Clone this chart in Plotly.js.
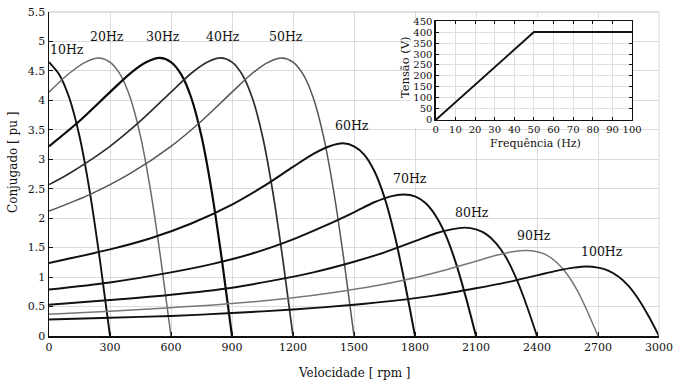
<!DOCTYPE html>
<html>
<head>
<meta charset="utf-8">
<script src="https://cdn.plot.ly/plotly-3.0.1.min.js"></script>
<style>html,body{margin:0;padding:0;background:#fff;}#chart{width:683px;height:388px;}</style>
</head>
<body>
<div id="chart"></div>
<script>
// Speed (rpm) and torque (pu), one pair per supply frequency
var n10 = [0,50,100,150,200,250,300];
var t10 = [4.65,4.44,4.04,3.39,2.46,1.30,0];
var n20 = [0,100,180,245,300,350,400,450,500,550,600];
var t20 = [4.14,4.46,4.65,4.72,4.65,4.44,4.04,3.39,2.46,1.30,0];
var n30 = [0,150,300,400,480,545,600,650,700,750,800,850,900];
var t30 = [3.22,3.65,4.14,4.46,4.65,4.72,4.65,4.44,4.04,3.39,2.46,1.30,0];
var n40 = [0,100,300,450,600,700,780,845,900,950,1000,1050,1100,1150,1200];
var t40 = [2.57,2.76,3.22,3.65,4.14,4.46,4.65,4.72,4.65,4.44,4.04,3.39,2.46,1.30,0];
var n50 = [0,200,400,600,750,900,1000,1080,1145,1200,1250,1300,1350,1400,1450,1500];
var t50 = [2.12,2.40,2.76,3.22,3.65,4.14,4.46,4.65,4.72,4.65,4.44,4.04,3.39,2.46,1.30,0];
var n60 = [0,300,500,700,900,1050,1200,1300,1380,1445,1500,1550,1600,1650,1700,1750,1800];
var t60 = [1.24,1.47,1.66,1.91,2.23,2.53,2.87,3.09,3.22,3.27,3.22,3.08,2.80,2.35,1.71,0.90,0];
var n70 = [0,300,600,800,1000,1200,1350,1500,1600,1680,1745,1800,1850,1900,1950,2000,2050,2100];
var t70 = [0.79,0.91,1.08,1.22,1.40,1.64,1.86,2.10,2.27,2.37,2.40,2.37,2.26,2.05,1.72,1.25,0.66,0];
var n80 = [0,300,600,900,1100,1300,1500,1650,1800,1900,1980,2045,2100,2150,2200,2250,2300,2350,2400];
var t80 = [0.53,0.61,0.70,0.82,0.94,1.08,1.26,1.42,1.61,1.74,1.81,1.84,1.81,1.73,1.57,1.32,0.96,0.51,0];
var n90 = [0,300,600,900,1200,1400,1600,1800,1950,2100,2200,2280,2345,2400,2450,2500,2550,2600,2650,2700];
var t90 = [0.37,0.42,0.48,0.55,0.65,0.74,0.85,0.99,1.12,1.27,1.37,1.43,1.45,1.43,1.37,1.24,1.04,0.76,0.40,0];
var n100 = [0,300,600,900,1200,1500,1700,1900,2100,2250,2400,2500,2580,2645,2700,2750,2800,2850,2900,2950,3000];
var t100 = [0.28,0.31,0.34,0.39,0.45,0.53,0.60,0.69,0.81,0.91,1.03,1.11,1.16,1.18,1.16,1.11,1.01,0.85,0.62,0.33,0];

var curveLabels = ['10Hz','20Hz','30Hz','40Hz','50Hz','60Hz','70Hz','80Hz','90Hz','100Hz'];
var labelX = [90,286,562,856,1166,1490,1776,2080,2386,2720];
var labelY = [4.86,5.09,5.09,5.09,5.09,3.58,2.67,2.09,1.70,1.43];

// Inset: V/f profile
var freqInset = [0,50,100];
var voltInset = [0,400,400];

var speeds = [n10,n20,n30,n40,n50,n60,n70,n80,n90,n100];
var torques = [t10,t20,t30,t40,t50,t60,t70,t80,t90,t100];
var colors = ['#111','#6a6a6a','#0a0a0a','#2e2e2e','#555','#111','#111','#111','#777','#111'];
var widths = [1.9,1.5,2.2,1.7,1.5,2,2,1.9,1.5,1.9];

var serif = 'DejaVu Serif, Liberation Serif, serif';
var traces = [];
for (var i = 0; i < speeds.length; i++) {
  traces.push({
    x: speeds[i], y: torques[i], type: 'scatter', mode: 'lines',
    line: {color: colors[i], width: widths[i], shape: 'spline', smoothing: 0.8},
    xaxis: 'x', yaxis: 'y', showlegend: false, hoverinfo: 'skip'
  });
}
traces.push({
  x: freqInset, y: voltInset, type: 'scatter', mode: 'lines',
  line: {color: '#111', width: 2}, xaxis: 'x2', yaxis: 'y2', showlegend: false, hoverinfo: 'skip'
});

var annotations = [];
for (var j = 0; j < curveLabels.length; j++) {
  annotations.push({
    x: labelX[j], y: labelY[j], xref: 'x', yref: 'y', text: curveLabels[j],
    showarrow: false, xanchor: 'center', yanchor: 'middle',
    font: {family: serif, size: 12.5, color: '#111'}
  });
}
annotations.push({x: 0.5, y: -0.114, xref: 'paper', yref: 'paper', text: 'Velocidade [ rpm ]',
  showarrow: false, xanchor: 'center', yanchor: 'middle', font: {family: serif, size: 12, color: '#111'}});
annotations.push({x: -0.059, y: 0.537, xref: 'paper', yref: 'paper', text: 'Conjugado [ pu ]', textangle: -90,
  showarrow: false, xanchor: 'center', yanchor: 'middle', font: {family: serif, size: 12, color: '#111'}});
annotations.push({x: 0.5836, y: 0.830, xref: 'paper', yref: 'paper', text: 'Tensão (V)', textangle: -90,
  showarrow: false, xanchor: 'center', yanchor: 'middle', font: {family: serif, size: 11.5, color: '#111'}});
annotations.push({x: 0.797, y: 0.593, xref: 'paper', yref: 'paper', text: 'Frequência (Hz)',
  showarrow: false, xanchor: 'center', yanchor: 'middle', font: {family: serif, size: 11, color: '#111'}});

var layout = {
  width: 683, height: 388,
  margin: {l: 49, r: 24, t: 12, b: 52},
  paper_bgcolor: '#fff', plot_bgcolor: '#fff',
  showlegend: false,
  xaxis: {
    domain: [0, 1], range: [0, 3000], dtick: 300, tick0: 0,
    showgrid: true, gridcolor: '#dcdcdc', gridwidth: 1, zeroline: false,
    showline: true, linecolor: '#111', linewidth: 1.5,
    ticks: 'inside', ticklen: 4, tickcolor: '#111',
    tickfont: {family: serif, size: 11, color: '#111'}, anchor: 'y'
  },
  yaxis: {
    domain: [0, 1], range: [0, 5.5], dtick: 0.5, tick0: 0,
    showgrid: true, gridcolor: '#dcdcdc', gridwidth: 1, zeroline: false,
    showline: true, linecolor: '#111', linewidth: 1.5,
    ticks: 'inside', ticklen: 4, tickcolor: '#111',
    tickfont: {family: serif, size: 11, color: '#111'}, anchor: 'x'
  },
  xaxis2: {
    domain: [0.634, 0.956], range: [0, 100], dtick: 10, tick0: 0,
    showgrid: true, gridcolor: '#dedede', zeroline: false,
    showline: true, mirror: 'allticks', linecolor: '#111', linewidth: 1.3,
    ticks: 'inside', ticklen: 3, tickcolor: '#111',
    tickfont: {family: serif, size: 10, color: '#111'}, anchor: 'y2'
  },
  yaxis2: {
    domain: [0.667, 0.972], range: [0, 450], dtick: 50, tick0: 0,
    showgrid: true, gridcolor: '#dedede', zeroline: false,
    showline: true, mirror: 'allticks', linecolor: '#111', linewidth: 1.3,
    ticks: 'inside', ticklen: 3, tickcolor: '#111',
    tickfont: {family: serif, size: 10, color: '#111'}, anchor: 'x2'
  },
  shapes: [
    {type: 'rect', xref: 'paper', yref: 'paper', x0: 0, x1: 1, y0: 1, y1: 1,
     line: {color: '#d6d6d6', width: 1}},
    {type: 'line', xref: 'paper', yref: 'paper', x0: 1, x1: 1, y0: 0, y1: 1,
     line: {color: '#d6d6d6', width: 1}},
    {type: 'rect', xref: 'x', yref: 'y', layer: 'between', x0: 1780, x1: 2870, y0: 3.53, y1: 5.4,
     fillcolor: '#fff', line: {width: 0}}
  ],
  annotations: annotations
};

Plotly.newPlot('chart', traces, layout, {staticPlot: true, displayModeBar: false});
</script>
</body>
</html>
